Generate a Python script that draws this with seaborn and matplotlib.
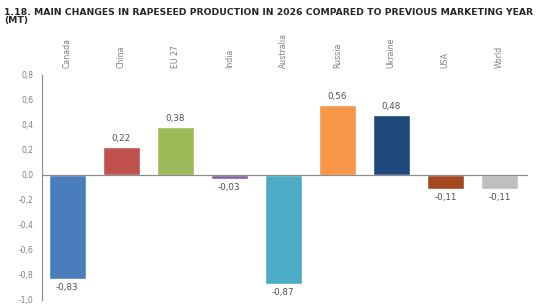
import pandas as pd
import matplotlib
matplotlib.use("Agg")
import matplotlib.pyplot as plt
import seaborn as sns

paises = ['Canada', 'China', 'EU 27', 'India', 'Australia', 'Russia', 'Ukraine', 'USA', 'World']
cambios = [-0.83, 0.22, 0.38, -0.03, -0.87, 0.56, 0.48, -0.11, -0.11]
colores = ['#4a7ebb', '#c0504d', '#9bbb59', '#8064a2', '#4bacc6',
           '#f79646', '#1f497d', '#a5471f', '#bfbfbf']
yticks = [0.8, 0.6, 0.4, 0.2, 0.0, -0.2, -0.4, -0.6, -0.8, -1.0]

df = pd.DataFrame({'Pais': paises, 'Cambio': cambios})

sns.set_style("white")
plt.rcParams['font.family'] = ['DejaVu Sans']

fig = plt.figure(figsize=(5.37, 3.07), dpi=100)
ax = fig.add_axes([0.0782, 0.023, 0.905, 0.733])

sns.barplot(data=df, x='Pais', y='Cambio', hue='Pais', palette=colores,
            width=0.685, legend=False, ax=ax, saturation=1)

ax.set_xlim(-0.47, 8.53)
ax.set_ylim(-1.0, 0.8)
ax.axhline(0, color='#8c8c8c', linewidth=0.9, zorder=3)

for cont in ax.containers:
    etiquetas = [f"{b.get_height():.2f}".replace('.', ',') for b in cont]
    ax.bar_label(cont, labels=etiquetas, padding=3, fontsize=6.3, color='#505050')

ax.set_yticks(yticks)
ax.set_yticklabels([f"{v:.1f}".replace('.', ',') for v in yticks],
                   fontsize=5.5, color='#7f7f7f')
ax.tick_params(axis='y', direction='out', length=4, width=0.7, color='#8c8c8c', pad=2)
ax.set_xticks([])
ax.set_xlabel('')
ax.set_ylabel('')

for s in ['top', 'right', 'bottom']:
    ax.spines[s].set_visible(False)
ax.spines['left'].set_color('#8c8c8c')
ax.spines['left'].set_linewidth(0.8)

# nombres de paises arriba, girados
for i, p in enumerate(paises):
    ax.text(i, 1.03, p, transform=ax.get_xaxis_transform(), rotation=90,
            ha='center', va='bottom', fontsize=5.6, color='#7f7f7f')

fig.text(0.008, 0.975,
         '1.18. MAIN CHANGES IN RAPESEED PRODUCTION IN 2026 COMPARED TO PREVIOUS MARKETING YEAR\n(MT)',
         fontsize=6.7, fontweight='bold', color='#262626', va='top', ha='left',
         linespacing=0.9)

fig.savefig('out.png', dpi=100)
